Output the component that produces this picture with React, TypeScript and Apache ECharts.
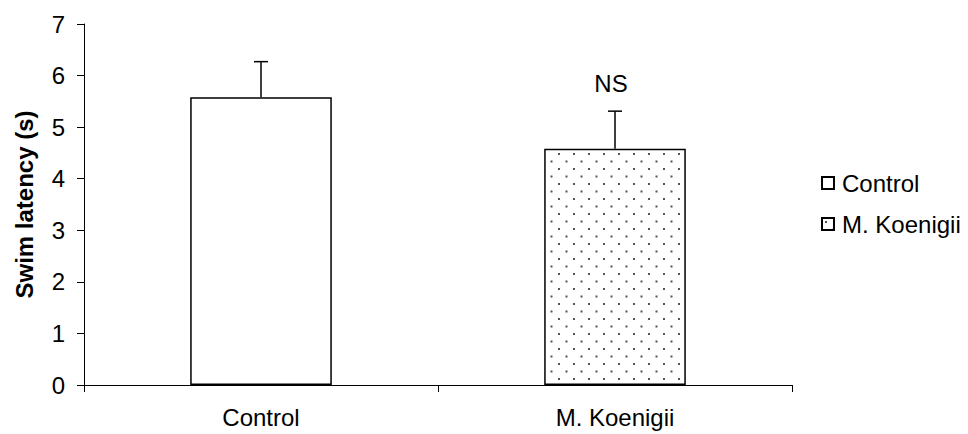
import React, { useEffect, useRef } from 'react';
import * as echarts from 'echarts';

const categories = ['Control', 'M. Koenigii'];
const means = [5.58, 4.58];
const errors = [0.69, 0.73];
const annotations = ['', 'NS'];
const yMin = 0;
const yMax = 7;
const yStep = 1;
const yAxisTitle = 'Swim latency (s)';

const FONT = '"Liberation Sans", Arial, sans-serif';
const FS = 24;

function makeDotPattern(): HTMLCanvasElement {
  const c = document.createElement('canvas');
  c.width = 15;
  c.height = 15;
  const ctx = c.getContext('2d')!;
  ctx.fillStyle = '#ffffff';
  ctx.fillRect(0, 0, 15, 15);
  ctx.fillStyle = '#555555';
  ctx.fillRect(3, 3, 2, 2);
  ctx.fillRect(10.5, 10.5, 2, 2);
  return c;
}

export default function App() {
  const ref = useRef<HTMLDivElement>(null);
  useEffect(() => {
    if (!ref.current) return;
    const chart = echarts.init(ref.current, null, { renderer: 'svg' });
    const pattern = { image: makeDotPattern(), repeat: 'repeat' as const };
    const errData = categories.map((_, i) => [i, means[i], means[i] + errors[i]]);
    chart.setOption({
      animation: false,
      backgroundColor: '#ffffff',
      textStyle: { fontFamily: FONT },
      grid: { left: 84, right: 176, top: 24, bottom: 49, containLabel: false },
      legend: {
        data: categories,
        orient: 'vertical',
        left: 816,
        top: 166,
        itemWidth: 12,
        itemHeight: 12,
        itemGap: 17,
        icon: 'rect',
        textStyle: { fontFamily: FONT, fontSize: FS, color: '#000', padding: [0, 0, 0, 3] },
      },
      xAxis: {
        type: 'category',
        data: categories,
        axisLine: { show: true, lineStyle: { color: '#000', width: 1 } },
        axisTick: { show: true, interval: 0, length: 7, alignWithLabel: false, lineStyle: { color: '#000' } },
        axisLabel: { fontFamily: FONT, fontSize: FS, color: '#000', margin: 20, interval: 0 },
        splitLine: { show: false },
      },
      yAxis: {
        type: 'value',
        min: yMin,
        max: yMax,
        interval: yStep,
        name: yAxisTitle,
        nameLocation: 'middle',
        nameGap: 48,
        nameTextStyle: { fontFamily: FONT, fontSize: FS, fontWeight: 'bold', color: '#000' },
        axisLine: { show: true, lineStyle: { color: '#000', width: 1 } },
        axisTick: { show: true, length: 7, lineStyle: { color: '#000' } },
        axisLabel: { fontFamily: FONT, fontSize: FS, color: '#000', margin: 19 },
        splitLine: { show: false },
      },
      series: [
        {
          name: categories[0],
          type: 'bar',
          data: [means[0], '-'],
          barWidth: '40%',
          barGap: '-100%',
          itemStyle: { color: '#ffffff', borderColor: '#000', borderWidth: 1.5 },
        },
        {
          name: categories[1],
          type: 'bar',
          data: ['-', means[1]],
          barWidth: '40%',
          barGap: '-100%',
          itemStyle: { color: pattern, borderColor: '#000', borderWidth: 1.5 },
        },
        {
          name: 'err',
          type: 'custom',
          data: errData,
          z: 10,
          renderItem: (params: any, api: any) => {
            const x = api.value(0);
            const m = api.value(1);
            const t = api.value(2);
            const p0 = api.coord([x, m]);
            const p1 = api.coord([x, t]);
            const half = 7;
            const children: any[] = [
              { type: 'line', shape: { x1: p0[0], y1: p0[1], x2: p1[0], y2: p1[1] }, style: { stroke: '#000', lineWidth: 1.5 } },
              { type: 'line', shape: { x1: p1[0] - half, y1: p1[1], x2: p1[0] + half, y2: p1[1] }, style: { stroke: '#000', lineWidth: 1.5 } },
            ];
            const note = annotations[params.dataIndex];
            if (note) {
              children.push({
                type: 'text',
                x: p1[0] - 4,
                y: p1[1] - 28,
                style: { text: note, fill: '#000', font: `${FS}px ${FONT}`, textAlign: 'center', textVerticalAlign: 'middle' },
              });
            }
            return { type: 'group', children };
          },
        },
      ],
    });
    return () => chart.dispose();
  }, []);
  return <div ref={ref} style={{ position: 'fixed', left: 0, top: 0, width: 968, height: 434 }} />;
}
